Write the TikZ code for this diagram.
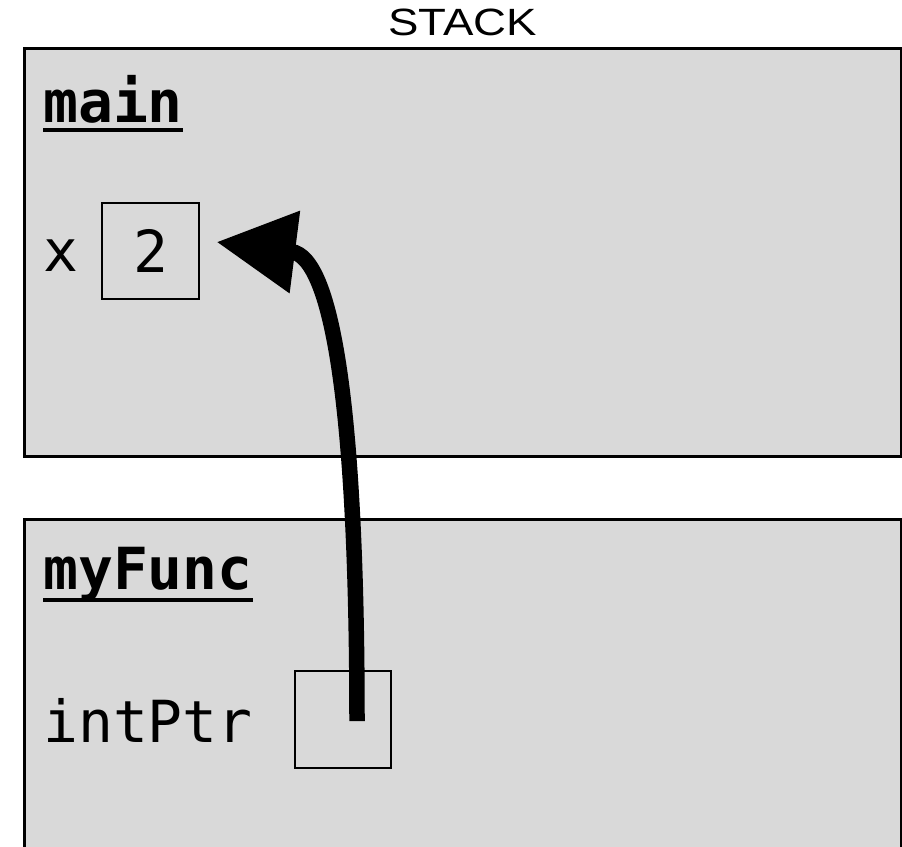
\documentclass[tikz,border=0pt]{standalone}
\usepackage{fontspec}
\setmainfont{Liberation Sans}
\newfontfamily\codefont{DejaVu Sans Mono}
\usetikzlibrary{arrows.meta,calc}
\definecolor{framegray}{HTML}{D9D9D9}
\begin{document}
\begin{tikzpicture}[x=1pt,y=-1pt,
  frame/.style={draw=black,line width=2.5pt,fill=framegray,anchor=north west,inner sep=0pt},
  valbox/.style={draw=black,line width=1.6pt,minimum size=96.5pt,inner sep=0pt,
    font=\codefont\fontsize{58}{58}\selectfont},
  code/.style={anchor=base west,inner sep=0pt,font=\codefont\fontsize{58}{58}\selectfont},
  codebold/.style={code,font=\codefont\bfseries\fontsize{58}{58}\selectfont},
  uline/.style={line width=4pt},
  pointer/.style={line width=15.5pt,-{Triangle[length=79pt,width=79pt]}}]
\useasboundingbox (0,0) rectangle (902,846);
\clip (0,0) rectangle (902,846);
\node[anchor=base,inner sep=0pt,font=\fontsize{38}{38}\selectfont] (title) at (462.5,35) {\scalebox{1.2}[1]{STACK}};
% frames
\node[frame,minimum width=877pt,minimum height=408pt] (mainframe) at (23,47) {};
\node[frame,minimum width=877pt,minimum height=360pt] (funcframe) at (23,518) {};
% main frame
\node[codebold] (mainlbl) at (43,122) {main};
\draw[uline] ($(mainlbl.base west)+(0,7.5)$) -- ($(mainlbl.base east)+(0,7.5)$);
\node[code] (xlbl) at (43,271) {x};
\node[valbox] (xbox) at (150.5,251) {2};
% func frame
\node[codebold] (funclbl) at (43,589) {myFunc};
\draw[uline] ($(funclbl.base west)+(0,11)$) -- ($(funclbl.base east)+(0,11)$);
\node[code] (ptrlbl) at (43,742) {intPtr};
\node[valbox] (ptrbox) at (343,719.5) {};
% pointer
\coordinate (src) at ($(ptrbox.center)+(14,1.5)$);
\coordinate (dst) at ($(xbox.east)+(17,-9)$);
\draw[pointer] (src) .. controls (357,420) and (334,257) .. (dst);
\end{tikzpicture}
\end{document}
